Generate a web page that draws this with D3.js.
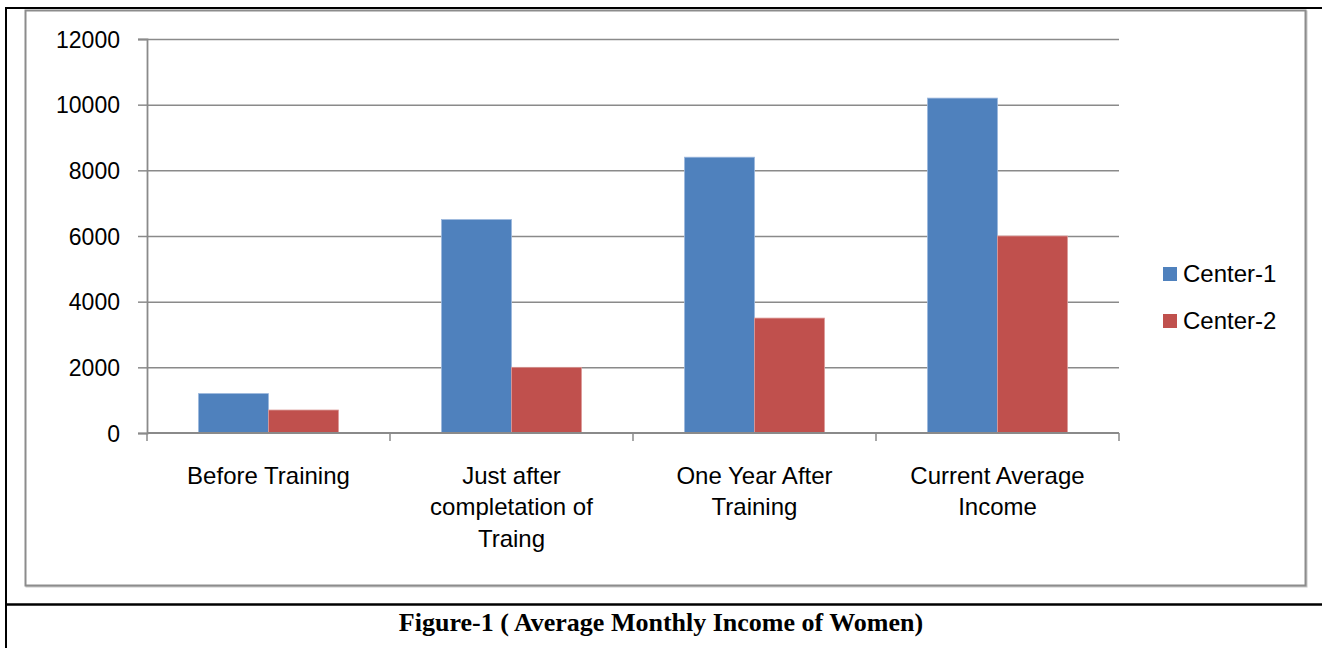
<!DOCTYPE html>
<html>
<head>
<meta charset="utf-8">
<script src="https://cdn.jsdelivr.net/npm/d3@7"></script>
<style>
  html, body { margin: 0; padding: 0; background: #fff; }
  svg { display: block; }
</style>
</head>
<body>
<svg id="chart" width="1322" height="648"></svg>
<script>
// ---- data ----
const categories = ["Before Training", "Just after completation of Traing", "One Year After Training", "Current Average Income"];
const seriesNames = ["Center-1", "Center-2"];
const center1 = [1200, 6500, 8400, 10200];
const center2 = [700, 2000, 3500, 6000];
const yTicks = [0, 2000, 4000, 6000, 8000, 10000, 12000];
const caption = "Figure-1 ( Average Monthly Income of Women)";
const colors = ["#4F81BD", "#C0504D"];

(function () {
const seriesValues = [center1, center2];
const rows = categories.map((c, i) => ({ cat: c, vals: seriesNames.map((s, j) => ({ s, j, v: seriesValues[j][i] })) }));

const svg = d3.select("#chart");
const font = "'Liberation Sans', Arial, sans-serif";

// ---- page borders (table cell) ----
svg.append("line").attr("x1", 5).attr("x2", 1322).attr("y1", 8).attr("y2", 8).attr("stroke", "#000").attr("stroke-width", 2);
svg.append("line").attr("x1", 6).attr("x2", 6).attr("y1", 7).attr("y2", 648).attr("stroke", "#000").attr("stroke-width", 2);
svg.append("line").attr("x1", 5).attr("x2", 1322).attr("y1", 604.5).attr("y2", 604.5).attr("stroke", "#000").attr("stroke-width", 2.5);

// ---- chart frame ----
svg.append("rect").attr("x", 26.5).attr("y", 11.5).attr("width", 1280).attr("height", 575)
  .attr("fill", "none").attr("stroke", "#c8c8c8").attr("stroke-width", 2);
svg.append("rect").attr("x", 25.5).attr("y", 10.5).attr("width", 1280).attr("height", 575)
  .attr("fill", "#fff").attr("stroke", "#8c8c8c").attr("stroke-width", 2);

// ---- scales ----
const pLeft = 147, pRight = 1119, pTop = 39, pBottom = 433;
const x = d3.scaleBand().domain(categories).range([pLeft, pRight]).paddingInner(0).paddingOuter(0);
const x1 = d3.scaleBand().domain(seriesNames).range([0, x.bandwidth()]).paddingInner(0).paddingOuter(0.736);
const y = d3.scaleLinear().domain([0, 12000]).range([pBottom, pTop]);

// ---- gridlines ----
const grid = svg.append("g").attr("transform", `translate(${pLeft},0)`)
  .call(d3.axisLeft(y).tickValues(yTicks.filter(t => t > 0)).tickSize(-(pRight - pLeft)).tickFormat(""));
grid.select(".domain").remove();
grid.selectAll("line").attr("stroke", "#8a8a8a").attr("stroke-width", 1.5);

// ---- bars ----
const g = svg.append("g");
g.selectAll("g.cat").data(rows).join("g").attr("class", "cat")
  .attr("transform", d => `translate(${x(d.cat)},0)`)
  .selectAll("rect").data(d => d.vals).join("rect")
  .attr("x", d => x1(d.s))
  .attr("y", d => y(d.v))
  .attr("width", x1.bandwidth())
  .attr("height", d => y(0) - y(d.v))
  .attr("fill", d => colors[d.j])
  .attr("stroke", (d) => d.j === 0 ? "#9bb7dd" : "#dc9a98")
  .attr("stroke-width", 0.8);

// ---- y axis ----
const yAxis = svg.append("g").attr("transform", `translate(${pLeft},0)`)
  .call(d3.axisLeft(y).tickValues(yTicks).tickSize(9).tickPadding(18).tickFormat(d3.format("d")));
yAxis.select(".domain").attr("stroke", "#8a8a8a").attr("stroke-width", 1.8);
yAxis.selectAll(".tick line").attr("stroke", "#8a8a8a").attr("stroke-width", 1.5);
yAxis.selectAll(".tick text").attr("font-family", font).attr("font-size", 23).attr("fill", "#000").attr("dy", "0.35em");

// ---- x axis ----
const xAxis = svg.append("g");
xAxis.append("line").attr("x1", pLeft).attr("x2", pRight).attr("y1", pBottom).attr("y2", pBottom)
  .attr("stroke", "#8a8a8a").attr("stroke-width", 1.8);
const boundaries = categories.map(c => x(c)).concat([x(categories[categories.length - 1]) + x.bandwidth()]);
xAxis.selectAll("line.tk").data(boundaries).join("line").attr("class", "tk")
  .attr("x1", d => d).attr("x2", d => d).attr("y1", pBottom).attr("y2", pBottom + 8)
  .attr("stroke", "#8a8a8a").attr("stroke-width", 1.5);

const labels = xAxis.selectAll("text.xl").data(categories).join("text").attr("class", "xl")
  .attr("x", d => x(d) + x.bandwidth() / 2)
  .attr("y", 483.5)
  .attr("text-anchor", "middle")
  .attr("font-family", font).attr("font-size", 24).attr("fill", "#000");

labels.each(function(d) {
  const t = d3.select(this);
  const words = d.split(" ");
  const maxW = 225;
  let lines = [], cur = [];
  const probe = t.append("tspan");
  words.forEach(w => {
    const test = cur.concat([w]).join(" ");
    probe.text(test);
    if (probe.node().getComputedTextLength() > maxW && cur.length) {
      lines.push(cur.join(" "));
      cur = [w];
    } else cur.push(w);
  });
  if (cur.length) lines.push(cur.join(" "));
  probe.remove();
  const cx = t.attr("x");
  lines.forEach((ln, i) => {
    t.append("tspan").attr("x", cx).attr("dy", i === 0 ? 0 : 31.5).text(ln);
  });
});

// ---- legend ----
const legend = svg.append("g");
const lg = legend.selectAll("g").data(seriesNames).join("g")
  .attr("transform", (d, i) => `translate(1163, ${274 + i * 47})`);
lg.append("rect").attr("x", 0).attr("y", -7).attr("width", 14).attr("height", 14).attr("fill", (d, i) => colors[i]);
lg.append("text").attr("x", 20).attr("y", 0).attr("dy", "0.35em")
  .attr("font-family", font).attr("font-size", 24).attr("fill", "#000").text(d => d);

// ---- caption ----
svg.append("text").attr("x", 661).attr("y", 631)
  .attr("text-anchor", "middle")
  .attr("font-family", "'Liberation Serif', 'Times New Roman', serif")
  .attr("font-weight", "bold").attr("font-size", 26).attr("fill", "#000")
  .text(caption);
})();
</script>
</body>
</html>
